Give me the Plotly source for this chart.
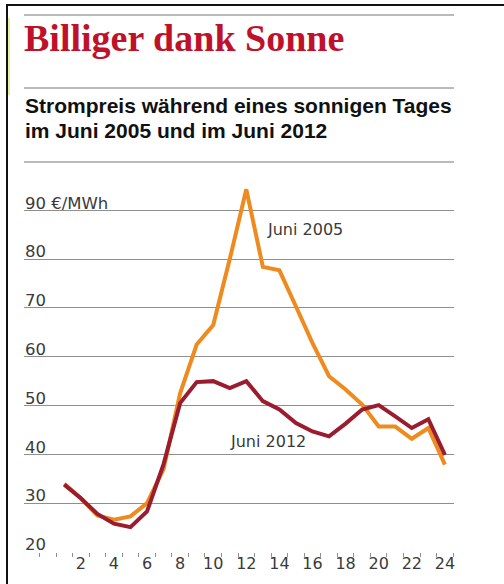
import plotly.graph_objects as go

hours = list(range(1, 25))
price_2005 = [34, 31, 27.5, 26.6, 27.3, 30, 37, 52.5, 62.5, 66.5, 80, 94.3, 78.4, 77.7, 70.3,
              62.8, 56, 53.3, 50.2, 45.7, 45.7, 43.2, 45.4, 37.9]
price_2012 = [33.8, 31, 27.8, 25.8, 25.1, 28.3, 38, 50.5, 54.8, 55, 53.6, 55, 50.9, 49.2, 46.4,
              44.7, 43.7, 46.3, 49.2, 50.1, 47.8, 45.4, 47.2, 39.9]
y_ticks = [20, 30, 40, 50, 60, 70, 80, 90]
y_ticktext = ["20", "30", "40", "50", "60", "70", "80", "90 €/MWh"]
x_ticks = list(range(2, 25, 2))
x_ticktext = [str(v) for v in x_ticks]

ORANGE = "#ee8a1e"
DARKRED = "#9a1c2e"
GRID = "#8f8f8f"
TXT = "#3a3a3a"
LABEL_FONT = "DejaVu Sans"

W, H = 504, 584
L, R, T, B = 24, 50, 181, 32
PW, PH = W - L - R, H - T - B


def px(x):
    return (x - L) / PW


def py(y):
    return (H - B - y) / PH


fig = go.Figure()
fig.add_trace(go.Scatter(x=hours, y=price_2005, mode="lines",
                         line=dict(color=ORANGE, width=4),
                         hoverinfo="skip", showlegend=False))
fig.add_trace(go.Scatter(x=hours, y=price_2012, mode="lines",
                         line=dict(color=DARKRED, width=4),
                         hoverinfo="skip", showlegend=False))
# invisible trace to carry the y tick labels axis
fig.add_trace(go.Scatter(x=[hours[0]], y=[y_ticks[0]], yaxis="y2", mode="markers",
                         marker=dict(opacity=0), hoverinfo="skip", showlegend=False))

shapes = []
# frame
shapes.append(dict(type="line", xref="paper", yref="paper", x0=px(6), x1=px(504), y0=py(5), y1=py(5),
                   line=dict(color="#111", width=2)))
shapes.append(dict(type="line", xref="paper", yref="paper", x0=px(7), x1=px(7), y0=py(4), y1=py(584),
                   line=dict(color="#111", width=2)))
shapes.append(dict(type="line", xref="paper", yref="paper", x0=px(9), x1=px(9), y0=py(18), y1=py(95),
                   line=dict(color="#d6e85a", width=1.2)))
# horizontal rules
for yy in (15, 88, 162):
    shapes.append(dict(type="line", xref="paper", yref="paper", x0=px(24), x1=px(454), y0=py(yy), y1=py(yy),
                       line=dict(color="#777", width=1)))

annotations = [
    dict(text="<b>Billiger dank Sonne</b>", xref="paper", yref="paper", x=px(22), y=py(37.5),
         xanchor="left", yanchor="middle", showarrow=False,
         font=dict(family="Liberation Serif", size=38, color="#c0112b")),
    dict(text="<b>Strompreis während eines sonnigen Tages</b>",
         xref="paper", yref="paper", x=px(23), y=py(105.7), xanchor="left", yanchor="middle",
         showarrow=False, font=dict(family="Liberation Sans", size=21, color="#111")),
    dict(text="<b>im Juni 2005 und im Juni 2012</b>",
         xref="paper", yref="paper", x=px(23), y=py(130.7), xanchor="left", yanchor="middle",
         showarrow=False, font=dict(family="Liberation Sans", size=21, color="#111")),
    dict(text="Juni 2005", xref="x", yref="y", x=13.13, y=86, xanchor="left", yanchor="middle",
         showarrow=False, font=dict(family=LABEL_FONT, size=16, color=TXT)),
    dict(text="Juni 2012", xref="x", yref="y", x=10.89, y=42.6, xanchor="left", yanchor="middle",
         showarrow=False, font=dict(family=LABEL_FONT, size=16, color=TXT)),
]

fig.update_layout(
    width=W, height=H,
    margin=dict(l=L, r=R, t=T, b=B, pad=0, autoexpand=False),
    paper_bgcolor="white", plot_bgcolor="white",
    shapes=shapes, annotations=annotations,
    xaxis=dict(range=[-1.434, 24.55], tickvals=x_ticks, ticktext=x_ticktext,
               showgrid=False, zeroline=False, showline=False, ticks="", automargin=False,
               tickfont=dict(family=LABEL_FONT, size=16, color=TXT),
               minor=dict(tick0=0.5, dtick=1, ticks="outside", ticklen=4, tickcolor=GRID,
                          tickwidth=1, showgrid=False)),
    yaxis=dict(range=[20, 96], tickvals=y_ticks, showticklabels=False, automargin=False,
               showgrid=True, gridcolor=GRID, gridwidth=1.3, zeroline=False, showline=False,
               ticks=""),
    yaxis2=dict(range=[20, 96], overlaying="y", anchor="free", position=0, side="right",
                automargin=False,
                tickvals=y_ticks, ticktext=y_ticktext, showgrid=False, zeroline=False,
                showline=False, ticks="", ticklabelposition="outside top", ticklabelshift=4,
                tickfont=dict(family=LABEL_FONT, size=16.5, color=TXT)),
)

fig.write_html("out.html")
